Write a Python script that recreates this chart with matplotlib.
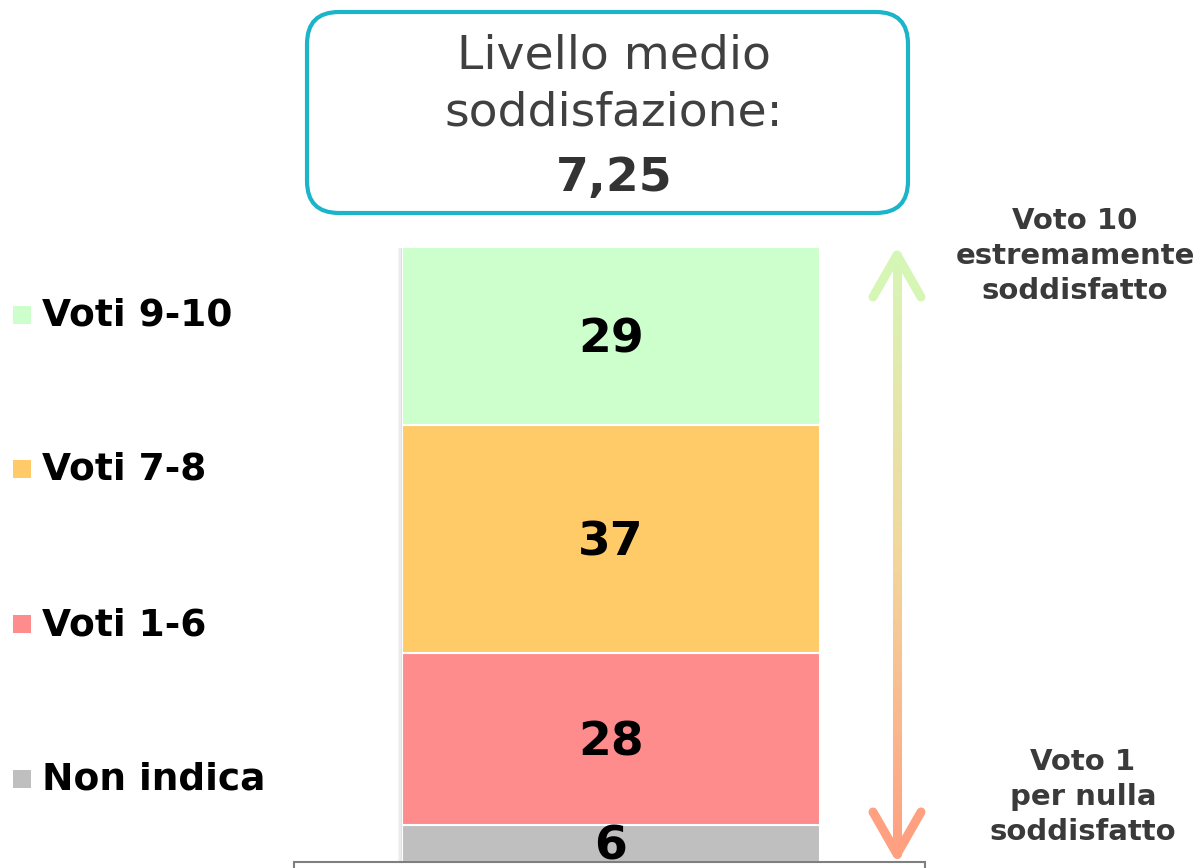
import matplotlib
matplotlib.use("Agg")
import matplotlib.pyplot as plt
import numpy as np
from matplotlib.patches import FancyBboxPatch, Rectangle
from matplotlib.collections import LineCollection
from matplotlib.colors import LinearSegmentedColormap

# data
categories = ["Non indica", "Voti 1-6", "Voti 7-8", "Voti 9-10"]
values = [6, 28, 37, 29]
colors = ["#bfbfbf", "#ff8c8c", "#ffca68", "#ccffcc"]
title_lines = ["Livello medio", "soddisfazione:"]
mean_score = "7,25"
top_note = "Voto 10\nestremamente\nsoddisfatto"
bottom_note = "Voto 1\nper nulla\nsoddisfatto"

W, H = 1198, 868
fig = plt.figure(figsize=(W / 100, H / 100), dpi=100)
fig.patch.set_facecolor("white")

# stacked bar, y 0..100 -> pixel 862..247
ax = fig.add_axes([402 / W, (H - 862) / H, 418 / W, 615 / H])
bottom = 0
for v, c in zip(values, colors):
    ax.bar(0, v, bottom=bottom, width=1, color=c, edgecolor="white", linewidth=1.5)
    # nudge down a bit: va=center includes the descender space
    ax.text(0, bottom + v / 2 - 0.6, str(v), ha="center", va="center",
            fontsize=34, fontweight="bold", color="black")
    bottom += v
ax.set_xlim(-0.5, 0.5)
ax.set_ylim(0, 100)
ax.axis("off")

# overlay in pixel coords
ov = fig.add_axes([0, 0, 1, 1])
ov.set_xlim(0, W)
ov.set_ylim(H, 0)
ov.axis("off")
ov.patch.set_alpha(0)

# soft shadow on the bar's left edge
for i, a in enumerate([0.3, 0.18, 0.1]):
    ov.add_patch(Rectangle((400.5 - i * 1.5, 248), 1.5, 614, color="#9a9a9a", alpha=a, lw=0))

# title box
ov.add_patch(FancyBboxPatch((307, 12), 601, 201, boxstyle="round,pad=0,rounding_size=32",
                            facecolor="white", edgecolor="#1bb4c9", linewidth=3))
ov.text(614, 56, title_lines[0], ha="center", va="center", fontsize=34, color="#404040")
ov.text(614, 113, title_lines[1], ha="center", va="center", fontsize=34, color="#404040")
ov.text(614, 179, mean_score, ha="center", va="center", fontsize=34,
        fontweight="bold", color="#333333")

# legend
leg_y = [779, 624, 469, 315]
for cat, c, y in zip(categories, colors, leg_y):
    ov.add_patch(Rectangle((13, y - 9), 18, 18, facecolor=c, edgecolor="none"))
    ov.text(42, y + 1, cat, ha="left", va="center", fontsize=27,
            fontweight="bold", color="black")

# gradient arrow
cmap = LinearSegmentedColormap.from_list("arr", ["#d6f6b6", "#f2d79c", "#ffa081"])
ys = np.linspace(255, 854, 200)
segs = [[(897, ys[i]), (897, ys[i + 1])] for i in range(len(ys) - 1)]
lc = LineCollection(segs, colors=cmap(np.linspace(0, 1, len(segs))), linewidths=6.5,
                    capstyle="round")
ov.add_collection(lc)
ov.plot([873, 897, 921], [297, 255, 297], color=cmap(0.0), lw=6.5,
        solid_capstyle="round", solid_joinstyle="round")
ov.plot([873, 897, 921], [812, 854, 812], color=cmap(1.0), lw=6.5,
        solid_capstyle="round", solid_joinstyle="round")

ov.text(1075, 256, top_note, ha="center", va="center", fontsize=21,
        fontweight="bold", color="#3a3a3a", linespacing=1.3)
ov.text(1083, 797, bottom_note, ha="center", va="center", fontsize=21,
        fontweight="bold", color="#3a3a3a", linespacing=1.3)

# table cell edge below the bar
ov.add_patch(Rectangle((294, 862), 631, 30, facecolor="white", edgecolor="#7f7f7f", lw=1.5))

fig.savefig("out.png", dpi=100, facecolor="white")
